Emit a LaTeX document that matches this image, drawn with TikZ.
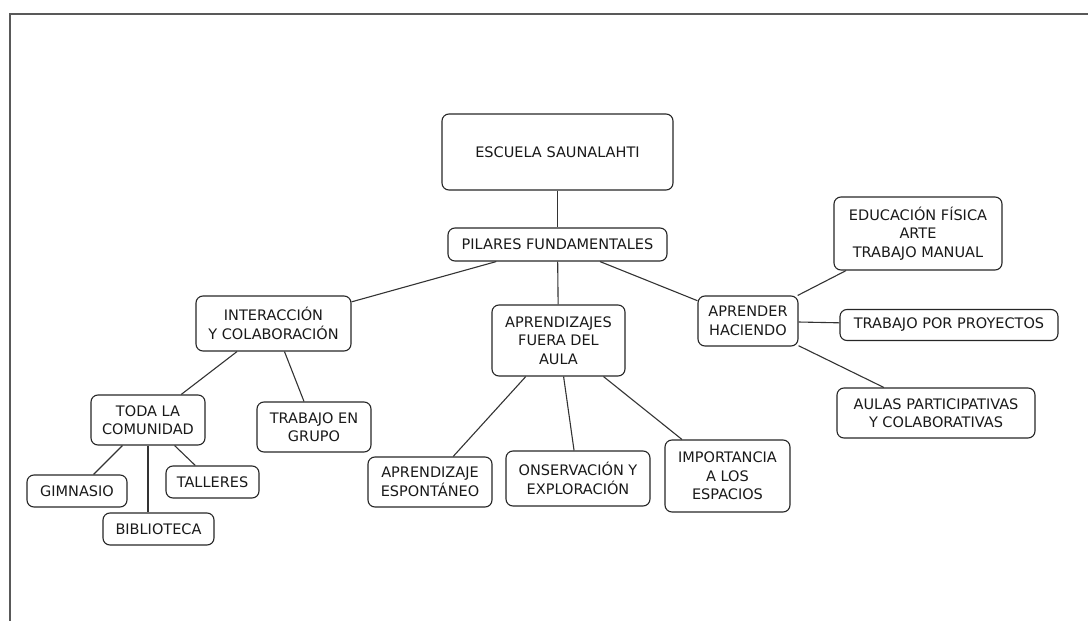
\documentclass[tikz,border=0pt]{standalone}
\usepackage{fontspec}
\setmainfont{DejaVu Sans}

\tikzstyle{concept}=[draw=black!85, line width=1.1pt, rounded corners=7pt, align=center, inner sep=0pt, text=black!90, font=\fontsize{14.5}{18.5}\selectfont]
\tikzstyle{link}=[draw=black!80, line width=1.1pt]

\begin{document}
\begin{tikzpicture}[x=1pt, y=-1pt]
      \useasboundingbox (0,0) rectangle (1088,621);
      \draw[black!65, line width=2pt] (10,621) -- (10,14) -- (1088,14);
      % central column
      \node[concept, minimum width=231pt, minimum height=76pt] (escuela) at (557.5,152) {ESCUELA SAUNALAHTI};
      \node[concept, minimum width=219pt, minimum height=33pt] (pilares) at (557.5,244.5) {PILARES FUNDAMENTALES};
      \node[concept, minimum width=133pt, minimum height=71pt] (fuera) at (558.5,340.5) {APRENDIZAJES\\FUERA DEL\\AULA};
      \node[concept, minimum width=124pt, minimum height=50pt] (espontaneo) at (430,482) {APRENDIZAJE\\ESPONTÁNEO};
      \node[concept, minimum width=144pt, minimum height=55pt] (exploracion) at (578,478.5) {ONSERVACIÓN Y\\EXPLORACIÓN};
      \node[concept, minimum width=125pt, minimum height=72pt] (espacios) at (727.5,476) {IMPORTANCIA\\A LOS\\ESPACIOS};
      % left branch
      \node[concept, minimum width=155pt, minimum height=55pt] (interaccion) at (273.5,323.5) {INTERACCIÓN\\Y COLABORACIÓN};
      \node[concept, minimum width=114pt, minimum height=50pt] (grupo) at (314,427) {TRABAJO EN\\GRUPO};
      \node[concept, minimum width=114pt, minimum height=50pt] (comunidad) at (148,420) {TODA LA\\COMUNIDAD};
      \node[concept, minimum width=100pt, minimum height=32pt] (gimnasio) at (77,491) {GIMNASIO};
      \node[concept, minimum width=93pt, minimum height=32pt] (talleres) at (212.5,482) {TALLERES};
      \node[concept, minimum width=111pt, minimum height=32pt] (biblioteca) at (158.5,529) {BIBLIOTECA};
      % right branch
      \node[concept, minimum width=100pt, minimum height=50pt] (haciendo) at (748,321) {APRENDER\\HACIENDO};
      \node[concept, minimum width=168pt, minimum height=73pt] (fisica) at (918,233.5) {EDUCACIÓN FÍSICA\\ARTE\\TRABAJO MANUAL};
      \node[concept, minimum width=218pt, minimum height=31pt] (proyectos) at (949,325) {TRABAJO POR PROYECTOS};
      \node[concept, minimum width=198pt, minimum height=50pt] (aulas) at (936,413) {AULAS PARTICIPATIVAS\\Y COLABORATIVAS};
      % links
      \foreach \from/\to in {escuela/pilares, pilares/interaccion, pilares/fuera, pilares/haciendo,
        interaccion/comunidad, interaccion/grupo, comunidad/gimnasio, comunidad/talleres,
        fuera/espontaneo, fuera/exploracion, fuera/espacios,
        haciendo/fisica, haciendo/proyectos, haciendo/aulas} {%
        \draw[link] (\from) -- (\to);
      }
      \draw[link] (comunidad.south) -- (comunidad.south |- biblioteca.north);
    \end{tikzpicture}
\end{document}
